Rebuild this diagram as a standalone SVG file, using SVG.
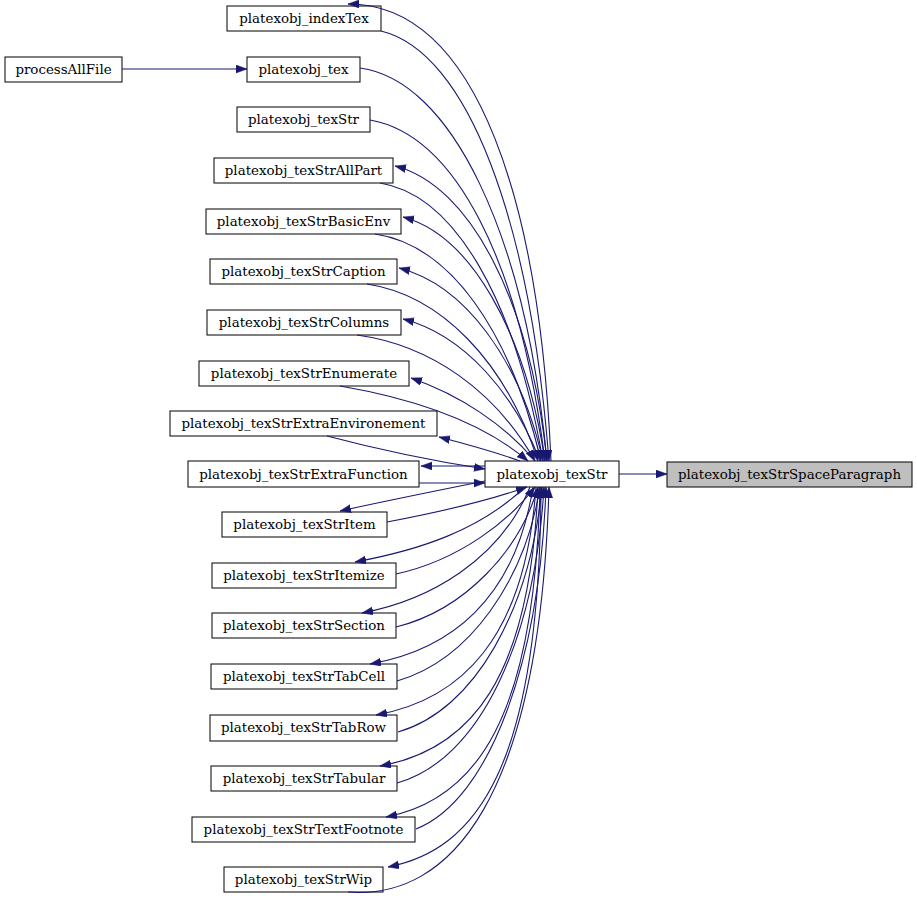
<svg xmlns="http://www.w3.org/2000/svg" width="917" height="899" viewBox="0 0 917 899">
<style>
.node rect{fill:#ffffff;stroke:#000000;stroke-width:1}
.node text{font-family:"DejaVu Serif","Liberation Serif",serif;font-size:13.4px;fill:#000000;text-anchor:middle}
#n_root rect{fill:#bfbfbf}
.edges path{fill:none;stroke:#191970;stroke-width:1.1;marker-end:url(#arr)}
</style>
<defs>
<marker id="arr" markerUnits="userSpaceOnUse" markerWidth="12" markerHeight="9" refX="11" refY="4" orient="auto">
<path d="M0,0 L11,4 L0,8 z" fill="#191970" stroke="#191970" stroke-width="0.5"/>
</marker>
</defs>
<rect width="917" height="899" fill="#ffffff"/>
<g id="n_root" class="node"><rect x="667" y="462" width="245" height="25"/><text x="789.5" y="479">platexobj_texStrSpaceParagraph</text></g>
<g id="n_texStr" class="node"><rect x="485" y="461" width="134" height="26"/><text x="552" y="479">platexobj_texStr</text></g>
<g id="n_processAllFile" class="node"><rect x="5" y="57" width="117" height="25"/><text x="63.5" y="74">processAllFile</text></g>
<g id="n_indexTex" class="node"><rect x="227" y="6" width="154" height="25"/><text x="304" y="23">platexobj_indexTex</text></g>
<g id="n_tex" class="node"><rect x="247" y="57" width="113" height="25"/><text x="303.5" y="74">platexobj_tex</text></g>
<g id="n_texStrTop" class="node"><rect x="237" y="107" width="133" height="25"/><text x="303.5" y="124">platexobj_texStr</text></g>
<g id="n_allPart" class="node"><rect x="214" y="158" width="179" height="25"/><text x="303.5" y="175">platexobj_texStrAllPart</text></g>
<g id="n_basicEnv" class="node"><rect x="206" y="209" width="195" height="25"/><text x="303.5" y="226">platexobj_texStrBasicEnv</text></g>
<g id="n_caption" class="node"><rect x="210" y="259" width="187" height="25"/><text x="303.5" y="276">platexobj_texStrCaption</text></g>
<g id="n_columns" class="node"><rect x="207" y="310" width="194" height="25"/><text x="304" y="327">platexobj_texStrColumns</text></g>
<g id="n_enumerate" class="node"><rect x="199" y="361" width="210" height="25"/><text x="304" y="378">platexobj_texStrEnumerate</text></g>
<g id="n_extraEnv" class="node"><rect x="170" y="411" width="267" height="25"/><text x="303.5" y="428">platexobj_texStrExtraEnvironement</text></g>
<g id="n_extraFunc" class="node"><rect x="188" y="461" width="231" height="26"/><text x="303.5" y="479">platexobj_texStrExtraFunction</text></g>
<g id="n_item" class="node"><rect x="222" y="512" width="165" height="25"/><text x="304.5" y="529">platexobj_texStrItem</text></g>
<g id="n_itemize" class="node"><rect x="212" y="563" width="184" height="25"/><text x="304" y="580">platexobj_texStrItemize</text></g>
<g id="n_section" class="node"><rect x="212" y="613" width="184" height="25"/><text x="304" y="630">platexobj_texStrSection</text></g>
<g id="n_tabCell" class="node"><rect x="211" y="664" width="186" height="25"/><text x="304" y="681">platexobj_texStrTabCell</text></g>
<g id="n_tabRow" class="node"><rect x="210" y="715" width="187" height="26"/><text x="303.5" y="732">platexobj_texStrTabRow</text></g>
<g id="n_tabular" class="node"><rect x="211" y="766" width="186" height="25"/><text x="304" y="783">platexobj_texStrTabular</text></g>
<g id="n_textFootnote" class="node"><rect x="192" y="817" width="223" height="25"/><text x="303.5" y="834">platexobj_texStrTextFootnote</text></g>
<g id="n_wip" class="node"><rect x="224" y="867" width="159" height="25"/><text x="303.5" y="884">platexobj_texStrWip</text></g>
<g class="edges">
<path d="M619,474 L667,474"/>
<path d="M122,69 L247,69"/>
<path d="M381,31 C468,52 530,220 549,461"/>
<path d="M360,68 C450,80 525,230 547,461"/>
<path d="M370,120 C455,135 520,260 545,461"/>
<path d="M380,183 C455,195 515,300 543,461"/>
<path d="M375,234 C450,245 510,330 541,461"/>
<path d="M367,284 C440,295 505,360 538,461"/>
<path d="M357,335 C430,345 495,390 535,461"/>
<path d="M340,386 C410,398 480,420 528,461"/>
<path d="M327,436 C380,450 440,462 485,469"/>
<path d="M419,483 L485,483"/>
<path d="M551,461 C540,210 480,4 348,4"/>
<path d="M547,461 C530,300 470,185 395,166"/>
<path d="M545,461 C525,330 470,235 403,217"/>
<path d="M543,461 C520,360 465,285 399,268"/>
<path d="M540,461 C515,395 465,335 403,319"/>
<path d="M535,461 C505,425 460,395 411,378"/>
<path d="M520,461 C495,452 470,445 439,437"/>
<path d="M485,466 L421,466"/>
<path d="M387,522 C440,512 490,500 527,487"/>
<path d="M396,574 C460,560 510,520 535,487"/>
<path d="M396,627 C465,610 520,550 538,487"/>
<path d="M397,681 C470,660 525,580 540,487"/>
<path d="M398,732 C475,710 530,610 542,487"/>
<path d="M397,783 C480,760 535,640 544,487"/>
<path d="M416,829 C490,800 540,660 546,487"/>
<path d="M348,892 C450,900 540,800 549,487"/>
<path d="M485,481 C440,490 390,500 340,511"/>
<path d="M525,487 C480,530 420,550 355,562"/>
<path d="M530,487 C500,560 430,600 362,613"/>
<path d="M533,487 C515,600 450,650 370,664"/>
<path d="M536,487 C525,640 460,700 376,715"/>
<path d="M538,487 C530,680 470,750 380,766"/>
<path d="M540,487 C535,720 475,800 386,817"/>
<path d="M541,487 C540,770 475,850 388,867"/>
</g>
</svg>
